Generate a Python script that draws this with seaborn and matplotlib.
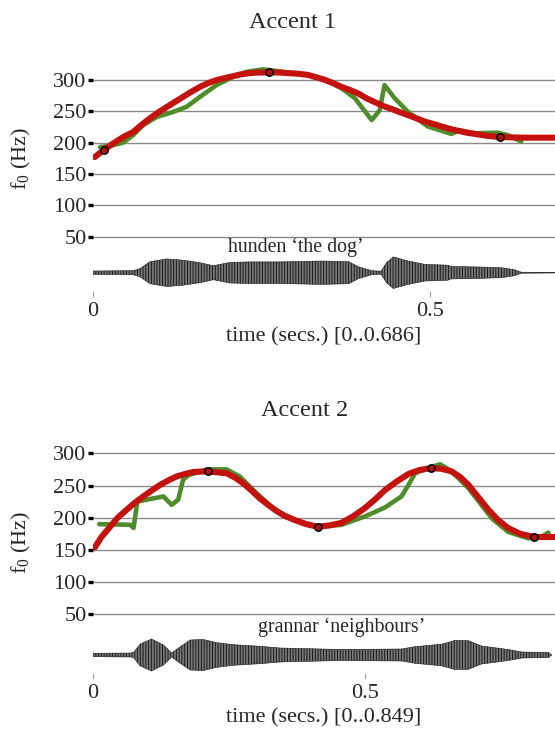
import numpy as np
import matplotlib.pyplot as plt
import seaborn as sns

sns.set_style("white")
plt.rcParams['font.family'] = ['Liberation Serif', 'DejaVu Serif']
plt.rcParams['mathtext.fontset'] = 'custom'
plt.rcParams['mathtext.rm'] = 'Liberation Serif'
plt.rcParams['mathtext.it'] = 'Liberation Serif:italic'
plt.rcParams['hatch.linewidth'] = 0.7

# Accent 1 -- hunden 'the dog'
a1_red_t = [0.003, 0.010, 0.017, 0.035, 0.047, 0.060, 0.072, 0.085, 0.097, 0.110,
            0.122, 0.134, 0.146, 0.159, 0.171, 0.184, 0.196, 0.208, 0.220, 0.233,
            0.247, 0.262, 0.276, 0.290, 0.305, 0.320, 0.333, 0.345, 0.357, 0.369,
            0.382, 0.395, 0.406, 0.418, 0.430, 0.443, 0.455, 0.468, 0.480, 0.492,
            0.505, 0.517, 0.530, 0.542, 0.555, 0.567, 0.585, 0.604, 0.620, 0.640,
            0.686]
a1_red_hz = [177, 183, 189, 202, 210, 217, 228, 239, 248, 257,
             265, 273, 281, 289, 295, 300, 303, 306, 309, 311,
             312, 312, 312, 311, 310, 308, 304, 300, 295, 289,
             284, 278, 271, 265, 259, 254, 249, 244, 239, 234,
             230, 226, 222, 219, 216, 214, 211, 209, 208.5, 208,
             208]
a1_green_t = [0.011, 0.026, 0.045, 0.060, 0.075, 0.095, 0.119, 0.139, 0.159, 0.184,
              0.208, 0.228, 0.253, 0.290, 0.320, 0.345, 0.369, 0.389, 0.414, 0.426,
              0.433, 0.448, 0.468, 0.497, 0.532, 0.544, 0.567, 0.601, 0.616, 0.636]
a1_green_hz = [193, 195, 200, 212, 228, 241, 249, 257, 273, 292,
               305, 313, 317, 312, 308, 300, 287, 271, 236, 252,
               292, 271, 249, 226, 214, 220, 215, 216, 212, 202]
a1_anchor_t = [0.017, 0.262, 0.604]
a1_anchor_hz = [189, 312, 209]
a1_wave_t = [0.0, 0.060, 0.070, 0.085, 0.110, 0.134, 0.159, 0.179, 0.204, 0.233,
             0.278, 0.340, 0.380, 0.394, 0.414, 0.428, 0.436, 0.446, 0.468, 0.493,
             0.527, 0.532, 0.567, 0.606, 0.626, 0.636, 0.686]
a1_wave_amp = [1.7, 2, 4, 11, 13.8, 12.5, 10, 7, 10.3, 10.8,
               10.8, 11.7, 11, 6, 2, 1.5, 10, 15.8, 11.7, 8.3,
               7.5, 6.2, 5.8, 5, 3, 0.5, 0.3]

# Accent 2 -- grannar 'neighbours'
a2_red_t = [0.004, 0.016, 0.032, 0.046, 0.062, 0.077, 0.093, 0.108, 0.124, 0.139,
            0.154, 0.170, 0.185, 0.211, 0.246, 0.262, 0.277, 0.292, 0.307, 0.322,
            0.335, 0.352, 0.372, 0.392, 0.413, 0.435, 0.457, 0.478, 0.500, 0.518,
            0.537, 0.558, 0.580, 0.600, 0.621, 0.640, 0.659, 0.675, 0.690, 0.708,
            0.727, 0.745, 0.763, 0.785, 0.811, 0.849]
a2_red_hz = [154, 170, 186, 200, 212, 223, 233, 242, 251, 258,
             264, 268, 271, 272, 269, 262, 253, 242, 230, 220,
             212, 203, 196, 190, 186, 188, 192, 202, 215, 228,
             243, 256, 268, 274, 277, 276, 272, 263, 251, 232,
             212, 196, 184, 175, 170, 170]
a2_green_t = [0.012, 0.069, 0.075, 0.082, 0.105, 0.130, 0.145, 0.157, 0.166, 0.176,
              0.209, 0.246, 0.270, 0.301, 0.335, 0.372, 0.413, 0.457, 0.500, 0.537,
              0.567, 0.580, 0.592, 0.616, 0.638, 0.659, 0.690, 0.733, 0.763, 0.800,
              0.825, 0.837]
a2_green_hz = [190, 189, 184, 225, 229, 233, 220, 228, 259, 266,
               275, 275, 264, 238, 212, 196, 186, 189, 202, 216,
               233, 251, 269, 277, 283, 272, 246, 199, 178, 168,
               171, 177]
a2_anchor_t = [0.211, 0.413, 0.621, 0.811]
a2_anchor_hz = [272, 186, 277, 170]
a2_wave_t = [0.0, 0.070, 0.075, 0.087, 0.108, 0.130, 0.145, 0.160, 0.179, 0.203,
             0.228, 0.258, 0.307, 0.344, 0.457, 0.567, 0.592, 0.641, 0.665, 0.690,
             0.714, 0.763, 0.788, 0.837, 0.843]
a2_wave_amp = [1.7, 2, 2.5, 10.8, 16, 10, 2, 8, 15, 15.5,
               12.3, 10.3, 8.7, 7, 5.5, 6, 8.3, 10.8, 14.5, 14.3,
               9, 5.5, 3, 2.5, 0]

f0_ticks = [50, 100, 150, 200, 250, 300]
RED = '#c4130f'
GREEN = '#4f8d2b'

W, H = 555, 731
fig = plt.figure(figsize=(5.55, 7.31), dpi=100)


def box(left, top, right, bottom):
    return [left / W, 1 - bottom / H, (right - left) / W, (bottom - top) / H]


def f0_panel(rect, tmax, ylim, red_t, red_hz, green_t, green_hz, anc_t, anc_hz):
    ax = fig.add_axes(rect)
    sns.lineplot(x=green_t, y=green_hz, ax=ax, color=GREEN, lw=3.3,
                 estimator=None, sort=False)
    sns.lineplot(x=red_t, y=red_hz, ax=ax, color=RED, lw=4.4,
                 estimator=None, sort=False)
    sns.scatterplot(x=anc_t, y=anc_hz, ax=ax, s=28, color='#b5120e',
                    edgecolor='black', linewidth=1.1, zorder=5)
    ax.set_xlim(0, tmax)
    ax.set_ylim(*ylim)
    ax.set_yticks(f0_ticks)
    ax.set_xticks([])
    ax.yaxis.grid(True, color='#8a8a8a', lw=1.0)
    ax.set_axisbelow(True)
    for s in ax.spines.values():
        s.set_visible(False)
    ax.tick_params(axis='y', left=True, length=3.5, width=2.4, pad=1,
                   labelsize=16, color='black')
    ax.set_xlabel('')
    ax.set_ylabel('')
    return ax


def wave_panel(rect, tmax, t, amp):
    ax = fig.add_axes(rect)
    amp = np.array(amp)
    ax.fill_between(t, -amp, amp, facecolor='#777777', edgecolor='#1a1a1a',
                    hatch='||||||', lw=0.4)
    ax.set_xlim(0, tmax)
    ax.set_ylim(-18, 18)
    ax.set_yticks([])
    ax.set_xticks([0, 0.5])
    ax.set_xticklabels(['0', '0.5'])
    for s in ax.spines.values():
        s.set_visible(False)
    ax.tick_params(axis='x', bottom=True, length=4, width=0.8, color='#a0a0a0',
                   labelsize=16, pad=4)
    return ax


# top panel
f0_panel(box(92.7, 55, 555, 240), 0.686, (44.7, 339.9),
         a1_red_t, a1_red_hz, a1_green_t, a1_green_hz, a1_anchor_t, a1_anchor_hz)
wave_panel(box(92.7, 254.7, 555, 290.7), 0.686, a1_wave_t, a1_wave_amp)

# bottom panel
f0_panel(box(92.7, 435, 555, 618), 0.849, (44.3, 328.4),
         a2_red_t, a2_red_hz, a2_green_t, a2_green_hz, a2_anchor_t, a2_anchor_hz)
wave_panel(box(92.7, 637, 555, 673), 0.849, a2_wave_t, a2_wave_amp)


def px_text(x, y, s, **kw):
    fig.text(x / W, 1 - y / H, s, ha='center', va='center', **kw)


px_text(293, 22, 'Accent 1', fontsize=17.5)
px_text(305, 410, 'Accent 2', fontsize=17.5)
px_text(296, 247, 'hunden \u2018the dog\u2019', fontsize=14.3)
px_text(342, 627, 'grannar \u2018neighbours\u2019', fontsize=14.3)
px_text(324, 337, 'time (secs.) [0..0.686]', fontsize=16)
px_text(324, 718, 'time (secs.) [0..0.849]', fontsize=16)
px_text(21, 158, 'f$_0$ (Hz)', fontsize=16, rotation=90)
px_text(21, 542, 'f$_0$ (Hz)', fontsize=16, rotation=90)

plt.savefig('out.png', dpi=100)
